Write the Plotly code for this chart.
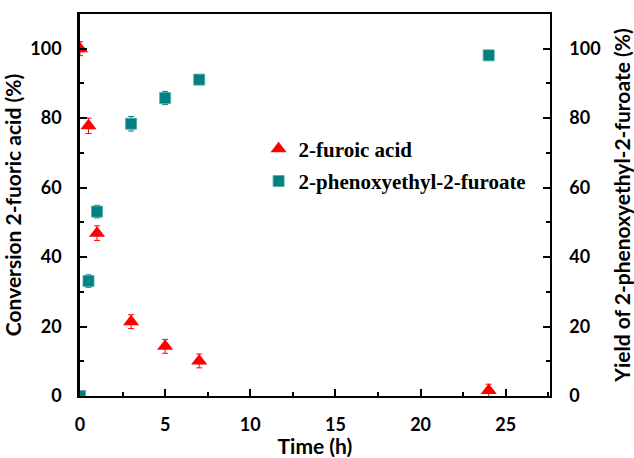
import plotly.graph_objects as go

# Data
time_acid = [0, 0.5, 1, 3, 5, 7, 24]
conv_acid = [100, 77.8, 46.9, 21.4, 14.3, 10.1, 1.6]
err_acid = [2, 2.2, 2.1, 2, 2, 2, 1.8]

time_ester = [0, 0.5, 1, 3, 5, 7, 24]
yield_ester = [0, 33.1, 53.1, 78.4, 85.8, 91.1, 98.1]
err_ester = [0, 1.8, 1.8, 2.1, 1.9, 1, 0.8]

x_ticks = [0, 5, 10, 15, 20, 25]
y_ticks = [0, 20, 40, 60, 80, 100]

RED = "#FF0000"
TEAL = "#008080"
TICKFONT = dict(family="Lato", size=18, color="black", weight="bold")
TITLEFONT = dict(family="Lato", size=21, color="black", weight="bold")

fig = go.Figure()
fig.add_trace(go.Scatter(
    x=time_acid, y=conv_acid, mode="markers", name="2-furoic acid",
    marker=dict(symbol="triangle-up", size=14, color=RED),
    error_y=dict(type="data", array=err_acid, color=RED, thickness=1, width=3),
    legendgroup="a", yaxis="y"))
fig.add_trace(go.Scatter(
    x=time_ester, y=yield_ester, mode="markers", name="2-phenoxyethyl-2-furoate",
    marker=dict(symbol="square", size=11, color=TEAL, line=dict(color="#4FA9A9", width=0.8)),
    error_y=dict(type="data", array=err_ester, color=TEAL, thickness=1, width=3),
    legendgroup="b", yaxis="y2"))

fig.update_layout(
    width=634, height=458,
    margin=dict(l=80, r=84, t=14, b=62),
    paper_bgcolor="white", plot_bgcolor="white",
    showlegend=True,
    legend=dict(x=0.38, y=0.70, xanchor="left", yanchor="top",
                bgcolor="rgba(0,0,0,0)",
                font=dict(family="Liberation Serif", size=21, color="black", weight="bold"),
                tracegroupgap=2, itemsizing="trace"),
    xaxis=dict(range=[0, 27.6], tickvals=x_ticks, ticks="inside", ticklen=7, tickwidth=1.5,
               tickcolor="black", showline=True, linecolor="black", linewidth=2, mirror=True,
               showgrid=False, zeroline=False, tickfont=TICKFONT, ticklabelstandoff=11,
               automargin=False,
               minor=dict(dtick=2.5, ticks="inside", ticklen=4, tickwidth=1.5, tickcolor="black", showgrid=False),
               title=dict(text="Time (h)", font=TITLEFONT, standoff=9)),
    yaxis=dict(range=[0, 110], tickvals=y_ticks, ticks="inside", ticklen=7, tickwidth=1.5,
               tickcolor="black", showline=True, linecolor="black", linewidth=2.5, mirror=False,
               showgrid=False, zeroline=False, tickfont=TICKFONT, ticklabelstandoff=12,
               automargin=False,
               minor=dict(dtick=10, ticks="inside", ticklen=4, tickwidth=1.5, tickcolor="black", showgrid=False),
               title=dict(text="Conversion 2-fuoric acid (%)", font=TITLEFONT, standoff=3)),
    yaxis2=dict(range=[0, 110], tickvals=y_ticks, ticks="inside", ticklen=7, tickwidth=1.5,
                tickcolor="black", showline=True, linecolor="black", linewidth=1.5,
                overlaying="y", side="right", anchor="x",
                showgrid=False, zeroline=False, tickfont=TICKFONT, ticklabelstandoff=14,
                automargin=False,
                minor=dict(dtick=10, ticks="inside", ticklen=4, tickwidth=1.5, tickcolor="black", showgrid=False),
                title=dict(text="Yield of 2-phenoxyethyl-2-furoate (%)", font=TITLEFONT, standoff=17)),
)

fig.write_html("out.html")
